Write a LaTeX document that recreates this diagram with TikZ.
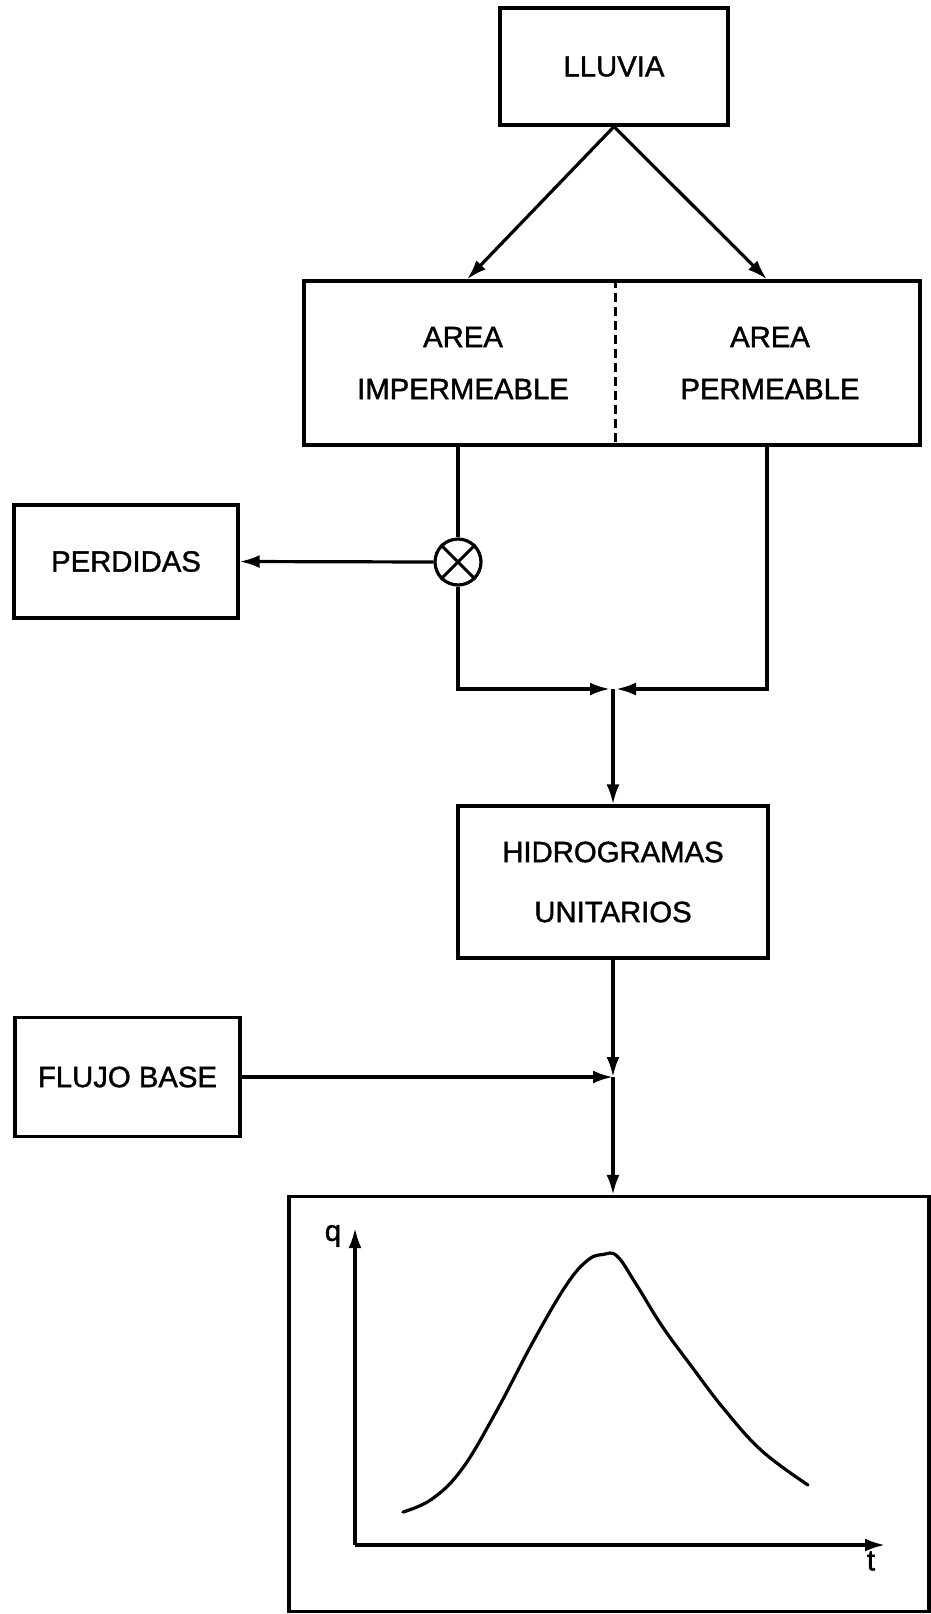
\documentclass[tikz,border=0pt]{standalone}
\usepackage{fontspec}
\setmainfont{Liberation Sans}
\newfontfamily\lettering[FakeBold=1.3]{Liberation Sans}
\usetikzlibrary{arrows.meta}
\begin{document}
\begin{tikzpicture}[x=1pt,y=-1pt,
  line width=3.2pt,
  box/.style={draw, rectangle, inner sep=0pt, align=center, font=\lettering\fontsize{29.3}{52}\selectfont},
  lbl/.style={inner sep=0pt, align=center, font=\lettering\fontsize{29.3}{52}\selectfont},
  arr/.style={-{Latex[length=20pt,width=13pt]}},
  sumnode/.style={draw, circle, minimum size=46pt, inner sep=0pt}
]
\useasboundingbox (0,0) rectangle (931,1614);
\fill[white] (0,0) rectangle (931,1614);

% boxes
\node[box, minimum width=228pt, minimum height=117pt] (lluvia) at (614,66.5) {LLUVIA};
\node[box, minimum width=616pt, minimum height=164pt] (area) at (612,363) {};
\node[lbl] (imp) at (463,363) {AREA\\IMPERMEABLE};
\node[lbl] (perm) at (770,363) {AREA\\PERMEABLE};
\draw[line width=3pt, dash pattern=on 9pt off 5pt] (area.north -| 615,0) -- (area.south -| 615,0);
\node[box, minimum width=224pt, minimum height=113pt] (perd) at (126,561.5) {PERDIDAS};
\node[sumnode] (cx) at (458,562) {};
\draw[line width=3pt] (cx.north east) -- (cx.south west) (cx.north west) -- (cx.south east);
\node[box, minimum width=310pt, minimum height=152pt] (hidro) at (613,882) {HIDROGRAMAS\\[8pt]UNITARIOS};
\node[box, minimum width=225pt, minimum height=119pt] (flujo) at (127.5,1077) {FLUJO BASE};
\node[draw, rectangle, minimum width=640pt, minimum height=415pt, inner sep=0pt] (graph) at (609,1404) {};

% junction coordinates
\coordinate (jl) at (610,689);
\coordinate (jr) at (616,689);
\coordinate (j1) at (613,689);
\coordinate (j2) at (613,1077);

% connectors
\draw[arr] (lluvia.south) -- (area.north -| 467,0);
\draw[arr] (lluvia.south) -- (area.north -| 767,0);
\draw (area.south -| cx.north) -- (cx.north);
\draw[arr] (cx.west) -- (perd.east);
\draw[arr] (cx.south) |- (jl);
\draw[arr] (area.south -| 767,0) |- (jr);
\draw[arr] (j1) -- (hidro.north -| j1);
\draw[arr] (hidro.south -| j2) -- (j2);
\draw[arr] (flujo.east) -- (j2);
\draw[arr] (j2) -- (graph.north -| j2);

% graph
\coordinate (o) at (355,1545);
\coordinate (ytop) at (355,1228);
\coordinate (xend) at (885,1545);
\draw[arr, line width=3.2pt] (o) -- (ytop);
\draw[arr, line width=3.2pt] (o) -- (xend);
\node[lbl] (qlab) at (333,1236) {q};
\node[lbl] (tlab) at (871,1561) {t};
\draw[line width=3.2pt, line cap=round] plot[smooth, tension=0.65] coordinates {
 (403,1512) (432,1499) (462,1469) (496,1412) (534,1340) (567,1284)
 (588,1260) (603,1254.5) (617,1256) (636,1284) (662,1326) (692,1367)
 (724,1409) (762,1451) (808,1485)};
\end{tikzpicture}
\end{document}
